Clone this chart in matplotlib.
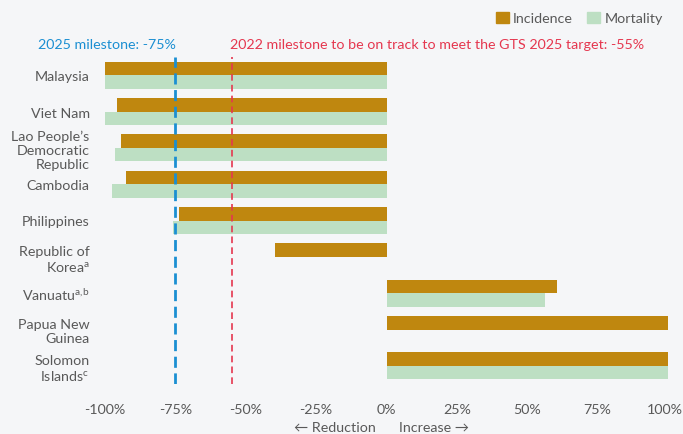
import matplotlib.pyplot as plt
from matplotlib.patches import Patch
from matplotlib.transforms import ScaledTranslation
import numpy as np

plt.rcParams['font.family'] = ['Lato', 'DejaVu Sans']

countries = ['Malaysia', 'Viet Nam', 'Lao People\u2019s\nDemocratic\nRepublic', 'Cambodia',
             'Philippines', 'Republic of\nKorea$^{\\mathregular{a}}$',
             'Vanuatu$^{\\mathregular{a{,}b}}$', 'Papua New\nGuinea',
             'Solomon\nIslands$^{\\mathregular{c}}$']
incidence = [-100, -95.7, -94.3, -92.6, -73.8, -39.7, 60.6, 100, 100]
mortality = [-100, -100, -96.5, -97.5, -75.9, np.nan, 56.4, np.nan, 100]
xticks = [-100, -75, -50, -25, 0, 25, 50, 75, 100]
milestone_2025 = -75
milestone_2022 = -55

bg = '#f5f6f8'
grey = '#595959'
c_inc = '#bf870f'
c_mort = '#bddfc3'
c_blue = '#1b8fd2'
c_red = '#e5374f'
fs = 10.3

fig = plt.figure(figsize=(6.83, 4.35), dpi=100, facecolor=bg)
ax = fig.add_axes([105 / 683, 1 - 385 / 435, (668 - 105) / 683, (385 - 58) / 435])
ax.set_facecolor(bg)

y = np.arange(len(countries))
h = 0.37
ax.barh(y - h / 2, incidence, height=h, color=c_inc)
ax.barh(y + h / 2, mortality, height=h, color=c_mort)

ax.axvline(milestone_2025, color=c_blue, lw=2, ls=(0, (4, 2)))
ax.axvline(milestone_2022, color=c_red, lw=1.2, ls=(0, (4, 2.5)))

ax.set_xlim(-100, 100)
ax.set_ylim(len(countries) - 0.5, -0.5)
ax.set_yticks(y)
ax.set_yticklabels(countries, color=grey, fontsize=fs, linespacing=1.2)
ax.set_xticks(xticks)
ax.set_xticklabels([f'{v}%' for v in xticks], color=grey, fontsize=fs)
ax.tick_params(axis='both', length=0)
ax.tick_params(axis='y', pad=11)
ax.tick_params(axis='x', pad=14)
for s in ax.spines.values():
    s.set_visible(False)

# keep the last tick label inside the picture
last = ax.get_xticklabels()[-1]
last.set_transform(last.get_transform() + ScaledTranslation(-3 / 100, 0, fig.dpi_scale_trans))

fig.text(38 / 683, 1 - 45 / 435, '2025 milestone: -75%', color=c_blue, fontsize=fs, va='center')
fig.text(230 / 683, 1 - 45 / 435,
         '2022 milestone to be on track to meet the GTS 2025 target: -55%',
         color=c_red, fontsize=fs, va='center')
fig.text(376 / 683, 1 - 428 / 435, '\u2190 Reduction', color=grey,
         fontsize=fs, va='center', ha='right')
fig.text(399 / 683, 1 - 428 / 435, 'Increase \u2192', color=grey,
         fontsize=fs, va='center', ha='left')

handles = [Patch(color=c_inc, label='Incidence'), Patch(color=c_mort, label='Mortality')]
fig.legend(handles=handles, loc='center right', bbox_to_anchor=(670 / 683, 1 - 19 / 435),
           ncol=2, frameon=False, fontsize=fs, labelcolor=grey, handlelength=0.9,
           handleheight=0.9, handletextpad=0.3, columnspacing=1.0, borderpad=0)

fig.savefig('out.png', dpi=100, facecolor=bg)
